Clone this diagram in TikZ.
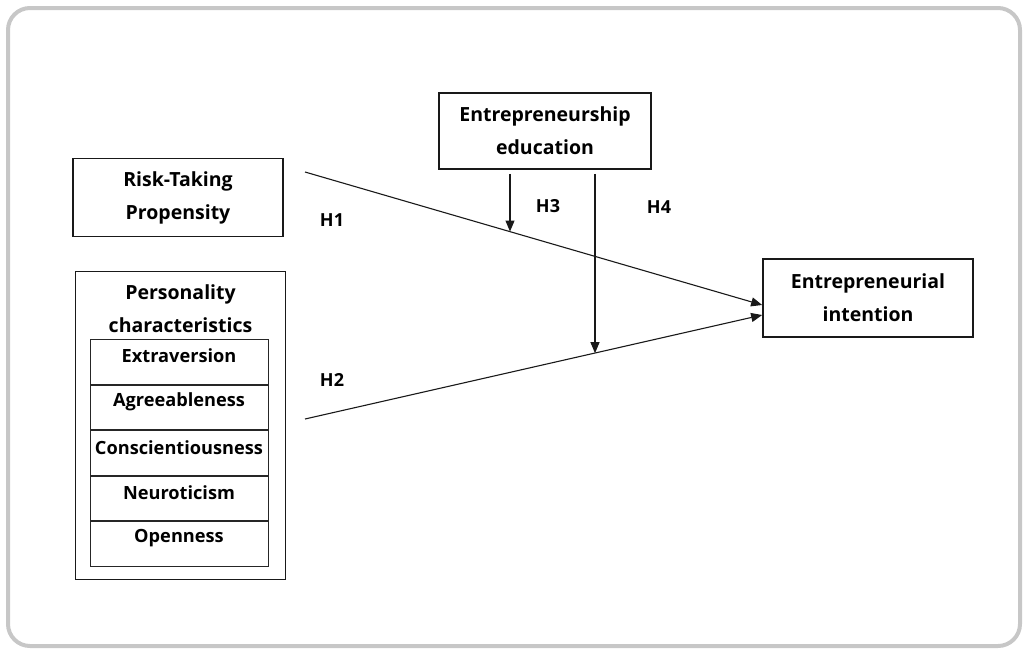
\documentclass[tikz,border=0pt]{standalone}
\usepackage{fontspec}
\setmainfont{Open Sans}
\usetikzlibrary{arrows.meta,calc}
\begin{document}
\begin{tikzpicture}[x=1pt,y=-1pt,
  box/.style={draw=black!90, line width=1.7pt, inner sep=0pt, align=center,
    font=\fontsize{19.5}{33}\selectfont\bfseries},
  rowbox/.style={draw=black!85, line width=1pt, minimum width=178pt, minimum height=44.6pt, inner sep=0pt},
  rowtxt/.style={font=\fontsize{18.2}{20}\selectfont\bfseries, inner sep=0pt},
  hyp/.style={font=\fontsize{18}{20}\selectfont\bfseries, inner sep=0pt},
  link/.style={draw=black!90, line width=1.1pt, -{Triangle[length=11pt,width=9pt]}},
  frame/.style={draw=black!22, line width=4pt, rounded corners=22pt}]
\useasboundingbox (0,0) rectangle (1028,654);
\path[frame] (8,8) rectangle (1020,646);
% boxes
\node[box, minimum width=210pt, minimum height=78pt] (rtp) at (178,197.5) {Risk-Taking\\Propensity};
\node[box, minimum width=212pt, minimum height=76pt] (ee) at (545,131) {Entrepreneurship\\education};
\node[box, minimum width=210pt, minimum height=78pt] (ei) at (868,298) {Entrepreneurial\\intention};
\node[box, minimum width=210pt, minimum height=308pt] (pc) at (180.5,425.5) {};
\node[box, draw=none] (pct) at (180.5,309) {Personality\\characteristics};
\node[rowbox, anchor=north] (r1) at (179,339) {};
\node[rowbox, anchor=north] (r2) at (r1.south) {};
\node[rowbox, anchor=north] (r3) at (r2.south) {};
\node[rowbox, anchor=north] (r4) at (r3.south) {};
\node[rowbox, anchor=north] (r5) at (r4.south) {};
\node[rowtxt] (t1) at ($(r1.north)+(0,17)$) {Extraversion};
\node[rowtxt] (t2) at ($(r2.north)+(0,17)$) {Agreeableness};
\node[rowtxt] (t3) at ($(r3.north)+(0,17)$) {Conscientiousness};
\node[rowtxt] (t4) at ($(r4.north)+(0,17)$) {Neuroticism};
\node[rowtxt] (t5) at ($(r5.north)+(0,17)$) {Openness};
% connectors
\coordinate (h1s) at (305,172);
\coordinate (h1e) at ($(ei.west)+(0,7)$);
\coordinate (h2s) at (305,419);
\coordinate (h2e) at ($(ei.west)+(0,17)$);
\draw[link] (h1s) -- (h1e);
\draw[link] (h2s) -- (h2e);
\coordinate (h3s) at ($(ee.south)+(-35,4)$);
\coordinate (h3e) at ($(h1s)!0.4476!(h1e)$);
\coordinate (h4s) at ($(ee.south)+(50,4)$);
\coordinate (h4e) at ($(h2s)!0.633!(h2e)$);
\draw[link] (h3s) -- (h3s |- h3e);
\draw[link] (h4s) -- (h4s |- h4e);
% labels
\node[hyp] (lh1) at (332,220) {H1};
\node[hyp] (lh2) at (332,380) {H2};
\node[hyp] (lh3) at (548,206) {H3};
\node[hyp] (lh4) at (659,207) {H4};
\end{tikzpicture}
\end{document}
